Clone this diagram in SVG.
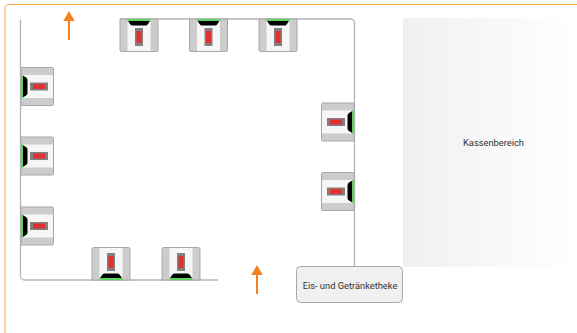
<svg xmlns="http://www.w3.org/2000/svg" width="577" height="333" viewBox="0 0 577 333">
<defs>
<linearGradient id="kasse" x1="0" y1="0" x2="1" y2="0"><stop offset="0" stop-color="#f0f0f0"/><stop offset="1" stop-color="#ffffff"/></linearGradient>
<marker id="ah" markerUnits="userSpaceOnUse" markerWidth="11" markerHeight="12" refX="1" refY="5.750" orient="auto" viewBox="0 0 11 11.500"><path d="M0 0L10 5.750L0 11.500Z" fill="#f58220"/></marker>
<g id="unit">
<path d="M0 0H38V31a1.500 1.500 0 0 1-1.500 1.500H1.500a1.500 1.500 0 0 1-1.500-1.500Z" fill="#cccccc"/>
<rect x="7.500" y="0" width="23" height="32" fill="#f6f6f6"/>
<path d="M0 0H38V31a1.500 1.500 0 0 1-1.500 1.500H1.500a1.500 1.500 0 0 1-1.500-1.500Z" fill="none" stroke="#a8a8a8" stroke-width="1"/>
<path d="M7.500 1L10 5Q11 6.500 12.500 6.500H25.500Q27 6.500 28 5L30.500 1Z" fill="#000000"/>
<rect x="7.500" y="0" width="23" height="2" fill="#5fd35f"/>
<rect x="15" y="9" width="8" height="18" fill="#808080"/>
<rect x="16.500" y="12" width="5" height="12" fill="#e03030"/>
</g>
</defs>
<style>
.lbl{font-family:Roboto,"Liberation Sans",sans-serif;font-size:9.300px;fill:#333333;text-anchor:middle}
.wall{fill:none;stroke:#b4b4b4;stroke-width:1.300}
.arrow{stroke:#f58220;stroke-width:2;fill:none;marker-end:url(#ah)}
</style>
<rect width="577" height="333" fill="#ffffff"/>
<path d="M577 4.500H9a4 4 0 0 0-4 4V333" fill="none" stroke="#f7a54a" stroke-width="1"/>
<g id="connectors">
<path class="wall" d="M20.500 20V276a4 4 0 0 0 4 4H218"/>
<path class="wall" d="M120 19H350.500a4 4 0 0 1 4 4V266"/>
<line class="arrow" x1="69" y1="40" x2="69" y2="20"/>
<line class="arrow" x1="257" y1="294" x2="257" y2="274"/>
</g>
<g id="kassenbereich"><rect x="403" y="18" width="174" height="249" rx="2" fill="url(#kasse)"/><text class="lbl" x="493.500" y="146">Kassenbereich</text></g>
<g id="theke"><rect x="296.500" y="266.500" width="106" height="36" rx="4" fill="#f0f0f0" stroke="#a8a8a8" stroke-width="1"/><text class="lbl" x="350" y="288.500">Eis- und Getränketheke</text></g>
<g id="unit-t1"><use href="#unit" transform="translate(120 19)"/></g>
<g id="unit-t2"><use href="#unit" transform="translate(189.500 19)"/></g>
<g id="unit-t3"><use href="#unit" transform="translate(259 19)"/></g>
<g id="unit-l1"><use href="#unit" transform="translate(21 105.500) rotate(-90)"/></g>
<g id="unit-l2"><use href="#unit" transform="translate(21 175) rotate(-90)"/></g>
<g id="unit-l3"><use href="#unit" transform="translate(21 245) rotate(-90)"/></g>
<g id="unit-r1"><use href="#unit" transform="translate(354 103) rotate(90)"/></g>
<g id="unit-r2"><use href="#unit" transform="translate(354 172.500) rotate(90)"/></g>
<g id="unit-b1"><use href="#unit" transform="translate(130 280) rotate(180)"/></g>
<g id="unit-b2"><use href="#unit" transform="translate(200 280) rotate(180)"/></g>
</svg>
